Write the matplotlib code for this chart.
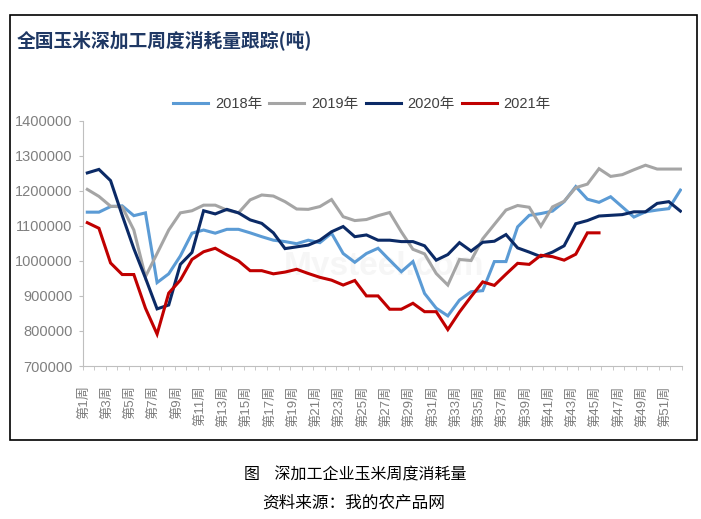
import matplotlib
matplotlib.use("Agg")
import matplotlib.pyplot as plt
from matplotlib.patches import Rectangle
import numpy as np

# ─── Daten (Tonnen) ───────────────────────────────────────────────────────────
wochen = [f"第{i}周" for i in range(1, 53)]

y2018 = [1139, 1139, 1155, 1157, 1129, 1137, 938, 963, 1014, 1079,
         1088, 1079, 1090, 1090, 1080, 1069, 1059, 1055, 1049, 1059,
         1052, 1079, 1021, 996, 1021, 1036, 1002, 969, 998, 907,
         865, 843, 888, 912, 915, 998, 998, 1097, 1130, 1135,
         1142, 1169, 1212, 1176, 1167, 1183, 1154, 1125, 1140, 1145,
         1149, 1202]
y2019 = [1204, 1184, 1156, 1154, 1088, 955, 1021, 1088, 1137, 1143,
         1159, 1159, 1145, 1137, 1174, 1188, 1185, 1169, 1148, 1147,
         1155, 1175, 1126, 1115, 1118, 1129, 1138, 1083, 1033, 1020,
         964, 931, 1004, 1001, 1063, 1104, 1145, 1158, 1153, 1099,
         1154, 1170, 1209, 1219, 1263, 1241, 1246, 1260, 1273, 1262,
         1262, 1262]
y2020 = [1251, 1261, 1229, 1130, 1035, 951, 863, 874, 990, 1024,
         1143, 1134, 1147, 1137, 1117, 1107, 1080, 1035, 1040, 1045,
         1059, 1083, 1098, 1069, 1074, 1059, 1059, 1055, 1055, 1043,
         1002, 1018, 1052, 1028, 1053, 1056, 1075, 1037, 1025, 1012,
         1025, 1043, 1106, 1115, 1128, 1130, 1132, 1140, 1140, 1164,
         1169, 1142]
y2021 = [1109, 1093, 994, 961, 961, 865, 791, 908, 945, 1004,
         1026, 1036, 1017, 1000, 972, 972, 963, 968, 976, 964,
         953, 945, 931, 944, 900, 900, 862, 862, 879, 855,
         855, 804, 854, 898, 940, 930, 962, 993, 990, 1016,
         1012, 1002, 1019, 1080, 1080]

serien = [("2018年", y2018, "#5B9BD5"),
          ("2019年", y2019, "#A5A5A5"),
          ("2020年", y2020, "#0B2A66"),
          ("2021年", y2021, "#C00000")]

plt.rcParams["font.family"] = ["Liberation Sans", "Noto Sans CJK SC"]

W, H = 701, 519
fig = plt.figure(figsize=(W / 100, H / 100), dpi=100)
ax = fig.add_axes([82.7 / W, 1 - 366 / H, (681.7 - 82.7) / W, (366 - 120.7) / H])

# Wasserzeichen (blass)
ax.text(25.5, 985000, "Mysteel.com", ha="center", va="center", fontsize=24,
        fontweight="bold", color="#F6F6F6", zorder=0)

for name, werte, farbe in serien:
    ax.plot(np.arange(len(werte)), np.array(werte) * 1000, color=farbe,
            lw=2.2, label=name, solid_joinstyle="miter", zorder=2)

ax.set_xlim(-0.396, 51.11)
ax.set_ylim(700000, 1400000)
ax.set_yticks(range(700000, 1400001, 100000))
ax.set_yticklabels([str(v) for v in range(700000, 1400001, 100000)])

pos = np.arange(0, 52, 2)
ax.set_xticks(pos - 0.3)
ax.set_xticklabels([wochen[i] for i in pos], rotation=90)
ax.set_xticks(np.linspace(-0.396, 51.11, 53), minor=True)

ax.tick_params(axis="y", direction="out", length=3, color="#BFBFBF",
               labelcolor="#7F7F7F", labelsize=10.5, pad=4.5)
ax.tick_params(axis="x", which="major", length=0, labelcolor="#7F7F7F",
               labelsize=9.5, pad=14)
ax.tick_params(axis="x", which="minor", direction="out", length=3,
               color="#BFBFBF")
for s in ["top", "right"]:
    ax.spines[s].set_visible(False)
for s in ["left", "bottom"]:
    ax.spines[s].set_color("#BFBFBF")
    ax.spines[s].set_linewidth(0.8)

fig.legend(loc="center", bbox_to_anchor=(362 / W, 1 - 104 / H), ncol=4,
           frameon=False, fontsize=10.5, handlelength=2.4,
           handletextpad=0.45, columnspacing=0.5, labelcolor="#404040")

fig.text(17 / W, 1 - 40 / H, "全国玉米深加工周度消耗量跟踪(吨)", ha="left",
         va="center", fontsize=13.5, fontweight="bold", color="#1F3864",
         family=["Noto Sans CJK SC"])

# Rahmen
fig.patches.append(Rectangle((10 / W, 1 - 440 / H), (697 - 10) / W,
                             (440 - 15) / H, transform=fig.transFigure,
                             fill=False, ec="black", lw=1.2))

fig.text(355 / W, 1 - 475 / H, "图    深加工企业玉米周度消耗量", ha="center",
         va="center", fontsize=11.5, color="black", family=["Noto Sans CJK SC"])
fig.text(354 / W, 1 - 503 / H, "资料来源：我的农产品网", ha="center",
         va="center", fontsize=12, color="black", family=["Noto Sans CJK SC"])

fig.savefig("out.png", dpi=100)
